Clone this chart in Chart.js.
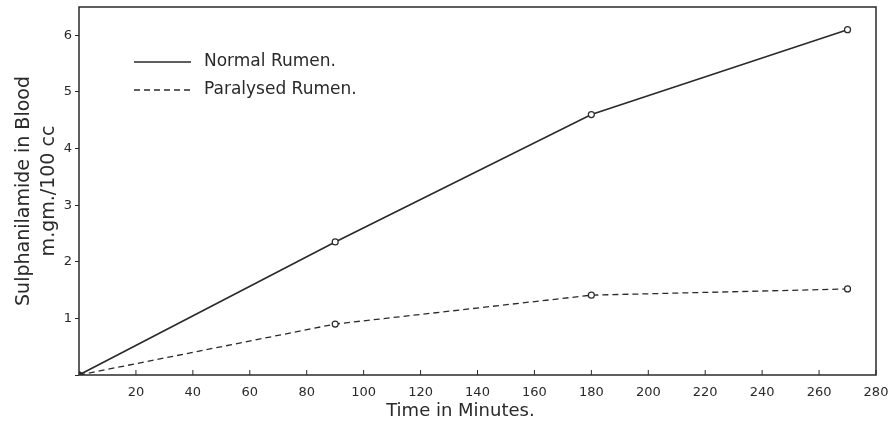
<!DOCTYPE html>
<html>
<head>
<meta charset="utf-8">
<script src="https://cdn.jsdelivr.net/npm/chart.js@4/dist/chart.umd.min.js"></script>
<style>
  html, body { margin: 0; padding: 0; background: #fff; }
  #wrap { width: 896px; height: 425px; position: relative; }
</style>
</head>
<body>
<div id="wrap"><canvas id="rumenChart"></canvas></div>
<script>
// values
const timeMinutes = [0, 90, 180, 270];
const normalRumen = [0, 2.35, 4.6, 6.1];
const paralysedRumen = [0, 0.9, 1.41, 1.52];
const seriesLabels = ['Normal Rumen.', 'Paralysed Rumen.'];
const yTitleLines = ['Sulphanilamide in Blood', 'm.gm./100 cc'];
const xTitle = 'Time in Minutes.';

const INK = '#2a2a2a';
const FONT = "'DejaVu Sans', sans-serif";

const toPoints = (ys) => timeMinutes.map((x, i) => ({ x: x, y: ys[i] }));
// origin drawn as a solid dot, the rest as small open rings
const pointFills = timeMinutes.map((x) => x === 0 ? INK : '#fff');

// box round the plot, inward ticks on the time axis, hand-drawn style key
const framePlugin = {
    id: 'frame',
    afterDatasetsDraw(chart) {
        const { ctx, chartArea: a, scales } = chart;
        ctx.save();
        ctx.strokeStyle = INK;
        ctx.lineWidth = 1.5;
        ctx.strokeRect(a.left, a.top, a.right - a.left, a.bottom - a.top);

        ctx.lineWidth = 1;
        scales.x.ticks.forEach(t => {
            if (t.value === 0) return;
            const px = scales.x.getPixelForValue(t.value);
            ctx.beginPath();
            ctx.moveTo(px, a.bottom);
            ctx.lineTo(px, a.bottom - 5);
            ctx.stroke();
        });

        // key
        ctx.font = '17px ' + FONT;
        ctx.fillStyle = INK;
        ctx.textBaseline = 'middle';
        chart.data.datasets.forEach((ds, i) => {
            const y = 62 + i * 28;
            ctx.beginPath();
            ctx.lineWidth = 1.5;
            ctx.setLineDash(ds.borderDash || []);
            ctx.moveTo(134, y);
            ctx.lineTo(191, y);
            ctx.stroke();
            ctx.setLineDash([]);
            ctx.fillText(ds.label, 204, y);
        });

        // time axis caption, sits a little left of centre in the original
        ctx.font = '18px ' + FONT;
        ctx.textAlign = 'center';
        ctx.textBaseline = 'middle';
        ctx.fillText(xTitle, scales.x.getPixelForValue(134), 411);
        ctx.restore();
    }
};

new Chart(document.getElementById('rumenChart'), {
    type: 'line',
    data: {
        datasets: [
            {
                label: seriesLabels[0],
                data: toPoints(normalRumen),
                borderColor: INK,
                borderWidth: 1.6,
                pointRadius: 3,
                pointBorderWidth: 1.2,
                pointBorderColor: INK,
                pointBackgroundColor: pointFills,
                tension: 0
            },
            {
                label: seriesLabels[1],
                data: toPoints(paralysedRumen),
                borderColor: INK,
                borderWidth: 1.3,
                borderDash: [6, 4],
                pointRadius: 3,
                pointBorderWidth: 1.2,
                pointBorderColor: INK,
                pointBackgroundColor: pointFills,
                tension: 0
            }
        ]
    },
    options: {
        responsive: true,
        maintainAspectRatio: false,
        animation: false,
        layout: { padding: { top: 7, right: 20, left: 12, bottom: 0 } },
        plugins: {
            legend: { display: false },
            tooltip: { enabled: false }
        },
        scales: {
            x: {
                type: 'linear',
                min: 0,
                max: 280,
                border: { display: false },
                grid: { display: false, drawTicks: false },
                ticks: {
                    stepSize: 20,
                    color: INK,
                    padding: 10,
                    font: { family: FONT, size: 13 },
                    callback: (v) => v === 0 ? '' : v
                },
                afterFit: (scale) => {
                    scale.height = 50;
                    scale.paddingLeft = 0;
                    scale.paddingRight = 0;
                }
            },
            y: {
                min: 0,
                max: 6.5,
                border: { display: false },
                grid: { drawOnChartArea: false, tickLength: 4, color: INK },
                afterBuildTicks: (scale) => {
                    scale.ticks = scale.ticks.filter(t => Number.isInteger(t.value));
                },
                ticks: {
                    stepSize: 1,
                    color: INK,
                    padding: 3,
                    font: { family: FONT, size: 13 },
                    callback: (v) => v === 0 ? '' : v
                },
                title: {
                    display: true,
                    text: yTitleLines,
                    color: INK,
                    font: { family: FONT, size: 19, lineHeight: 1.3 },
                    padding: { top: 0, bottom: 0 }
                },
                afterFit: (scale) => {
                    scale.width = 67;
                    scale.paddingTop = 0;
                    scale.paddingBottom = 0;
                }
            }
        }
    },
    plugins: [framePlugin]
});
</script>
</body>
</html>
